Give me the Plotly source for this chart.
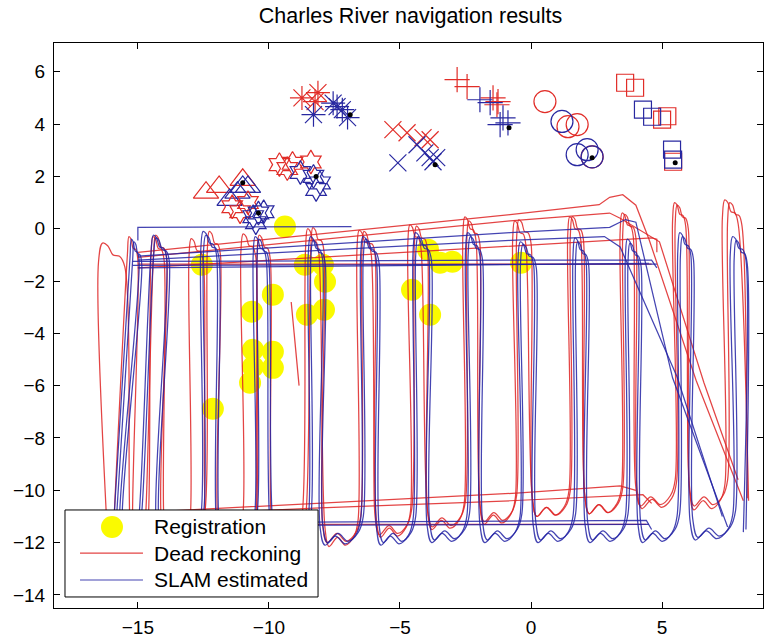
import plotly.graph_objects as go

# ---------------- data ----------------
# Registration points (yellow)
reg_x = [-9.39, -12.56, -8.63, -7.94, -7.86, -9.85, -10.65, -8.55, -7.9, -10.61,
         -9.85, -9.85, -10.61, -10.72, -4.54, -3.85, -3.93, -3.47, -3.0, -0.38, -12.14]
reg_y = [0.08, -1.38, -1.38, -1.38, -2.03, -2.52, -3.17, -3.29, -3.1, -4.63,
         -4.7, -5.32, -5.28, -5.89, -2.33, -3.29, -0.8, -1.3, -1.26, -1.3, -6.88]

# Landmark estimates (red = dead reckoning, blue = SLAM)
tri_red_x = [-12.4, -11.9, -11.0];            tri_red_y = [1.38, 1.6, 1.87]
tri_blue_x = [-11.5, -11.2, -11.0, -10.8];    tri_blue_y = [1.1, 1.38, 1.6, 1.6]
hexa_red_x = [-11.4, -11.1, -10.8];           hexa_red_y = [0.84, 0.65, 1.0]
hexa_blue_x = [-10.6, -10.4, -10.5, -10.2];   hexa_blue_y = [0.46, 0.6, 0.23, 0.65]
hexb_red_x = [-9.6, -9.1, -8.4, -9.3];        hexb_red_y = [2.45, 2.5, 2.55, 2.3]
hexb_blue_x = [-8.8, -8.3, -8.05, -8.2];      hexb_blue_y = [2.15, 2.0, 1.75, 1.5]
ast_red_x = [-8.74, -8.13, -8.24];            ast_red_y = [5.0, 5.2, 4.86]
ast_blue_x = [-8.3, -7.55, -7.2, -7.0, -7.4]; ast_blue_y = [4.36, 4.8, 4.55, 4.25, 4.67]
xm_red_x = [-5.27, -4.73, -4.12, -3.85];      xm_red_y = [3.79, 3.67, 3.48, 3.4]
xm_blue_x = [-5.08, -4.35, -4.05, -3.74, -3.6, -3.85]
xm_blue_y = [2.52, 3.21, 2.9, 2.56, 2.72, 2.72]
pl_red_x = [-2.82, -2.44, -1.45, -1.26, -1.3];  pl_red_y = [5.7, 5.43, 5.0, 4.86, 4.74]
pl_blue_x = [-1.95, -1.56, -1.07, -0.88, -1.18]; pl_blue_y = [4.93, 4.82, 4.24, 4.05, 3.98]
ci_red_x = [0.53, 1.41, 1.76, 2.33];          ci_red_y = [4.86, 3.9, 3.98, 2.75]
ci_blue_x = [1.18, 1.76, 2.14, 2.33];         ci_blue_y = [4.1, 2.83, 3.02, 2.75]
sq_red_x = [3.59, 3.97, 5.0, 5.42, 5.2];      sq_red_y = [5.58, 5.39, 4.17, 2.56, 4.3]
sq_blue_x = [4.27, 4.62, 5.38, 5.42];         sq_blue_y = [4.55, 4.28, 3.02, 2.64]
truth_x = [-11.0, -10.4, -8.2, -6.9, -3.66, -0.84, 2.33, 5.5]
truth_y = [1.76, 0.6, 2.0, 4.36, 2.45, 3.86, 2.71, 2.52]

# Survey lanes: x of the up/down legs at top and bottom, cap heights, turn depths
b1_up_top = [-15.3, -14.5, -12.6, -10.6, -8.5, -6.5, -4.5, -2.5, -0.5, 1.6, 3.6, 5.6, 7.6]
b1_dn_top = [-14.95, -13.9, -12.0, -10.1, -7.95, -5.9, -3.9, -1.95, 0.1, 2.1, 4.1, 6.1, 8.2]
b1_cap_y = [-0.4, -0.25, -0.1, -0.3, -0.3, -0.3, -0.15, -0.15, -0.5, -0.35, -0.4, -0.15, -0.3]
b1_up_bot = [-15.9, -14.95, -12.6, -10.55, -8.5, -6.5, -4.5, -2.45, -0.42, 1.6, 3.6, 5.57, 7.7]
b1_dn_bot = [-15.7, -14.3, -12.0, -9.95, -8.05, -5.9, -3.97, -1.95, 0.08, 2.06, 4.08, 6.07, 8.1]
b1_bot_y = [-11.9, -12.0, -12.0, -12.1, -12.1, -12.1, -12.0, -12.0, -12.0, -12.0, -12.0, -11.9, -11.6]

b2_up_top = [-15.2, -14.4, -12.5, -10.45, -8.4, -6.4, -4.4, -2.4, -0.4, 1.7, 3.7, 5.7, 7.75]
b2_dn_top = [-14.85, -13.8, -11.9, -10.0, -7.85, -5.8, -3.8, -1.85, 0.2, 2.2, 4.2, 6.2, 8.25]
b2_cap_y = [-0.5, -0.35, -0.25, -0.4, -0.45, -0.4, -0.3, -0.3, -0.6, -0.5, -0.55, -0.3, -0.45]
b2_up_bot = [-15.8, -14.85, -12.5, -10.45, -8.4, -6.4, -4.4, -2.35, -0.35, 1.7, 3.7, 5.67, 7.8]
b2_dn_bot = [-15.6, -14.2, -11.9, -9.85, -7.95, -5.8, -3.87, -1.85, 0.18, 2.16, 4.18, 6.17, 8.2]
b2_bot_y = [-11.8, -11.9, -11.9, -12.0, -12.0, -12.0, -11.9, -11.9, -11.9, -11.9, -11.9, -11.8, -11.5]

r1_up_top = [-16.5, -14.5, -13.05, -11.07, -8.6, -6.64, -4.7, -2.6, -0.7, 1.4, 3.4, 5.4, 7.3]
r1_dn_top = [-15.5, -14.0, -12.5, -10.5, -8.1, -6.1, -4.2, -2.1, -0.2, 1.9, 3.9, 5.9, 7.9]
r1_cap_y = [-0.55, -0.3, -0.38, -0.2, 0.0, -0.06, 0.15, 0.45, 0.3, 0.45, 0.6, 1.0, 1.1]
r1_up_bot = [-16.2, -14.6, -13.0, -11.0, -8.75, -6.6, -4.6, -2.55, -0.6, 1.45, 3.45, 5.5, 7.4]
r1_dn_bot = [-15.3, -14.0, -12.4, -10.4, -7.86, -5.9, -3.95, -1.95, 0.05, 2.05, 4.0, 6.05, 8.3]
r1_bot_y = [-12.0, -12.0, -12.0, -12.1, -12.15, -11.8, -11.5, -11.3, -11.0, -10.9, -10.6, -10.75, -10.4]

r2_up_top = [-15.4, -14.4, -12.35, -10.45, -8.4, -6.45, -4.45, -2.45, -0.55, 1.5, 3.5, 5.5, 7.5]
r2_dn_top = [-15.0, -13.9, -11.85, -9.95, -7.9, -5.95, -3.95, -1.95, 0.0, 2.0, 4.0, 6.0, 8.05]
r2_cap_y = [-0.3, -0.25, -0.1, -0.25, 0.04, -0.1, 0.1, 0.3, 0.34, 0.46, 0.55, 0.9, 1.0]
r2_up_bot = [-15.9, -14.7, -12.45, -10.5, -8.6, -6.5, -4.55, -2.5, -0.55, 1.5, 3.5, 5.55, 7.5]
r2_dn_bot = [-15.2, -14.1, -11.95, -9.9, -7.95, -5.95, -3.95, -1.95, 0.05, 2.05, 4.05, 6.05, 8.25]
r2_bot_y = [-11.9, -11.9, -11.9, -12.0, -12.0, -11.7, -11.4, -11.2, -11.0, -10.9, -10.7, -10.6, -10.3]

# Transit legs (SLAM)
bt_top_x = [-15.0, -15.0, -6.85];  bt_top_y = [-0.45, 0.05, 0.08]
bt_a_x = [-15.2, -8.0, 0.0, 4.6, 4.8];  bt_a_y = [-1.25, -1.22, -1.2, -1.2, -1.5]
bt_b_x = [-15.2, 4.8];  bt_b_y = [-1.4, -1.35]
bt_c_x = [-15.0, 4.5];  bt_c_y = [-1.5, -1.32]
bt_s1_x = [-15.0, -8.0, -0.8, 3.0, 3.6, 4.0, 5.4, 7.5]
bt_s1_y = [-1.05, -0.6, -0.15, 0.05, 0.35, 0.25, -5.7, -11.4]
bt_s2_x = [-15.0, -0.8, 2.8, 3.4, 5.57, 7.3]
bt_s2_y = [-1.2, -0.45, -0.3, -0.7, -5.66, -11.0]
bb1_x = [-15.0, 4.4, 4.6];  bb1_y = [-11.25, -11.15, -11.5]
bb2_x = [-15.0, 4.5];       bb2_y = [-11.35, -11.3]
# Transit legs (dead reckoning)
rt_s1_x = [-15.0, -0.8, 2.6, 3.0, 3.5, 4.0, 4.5, 6.3, 8.1]
rt_s1_y = [-0.9, 0.54, 0.92, 1.2, 1.3, 0.9, -0.4, -5.8, -10.4]
rt_s2_x = [-15.0, -0.8, 3.0, 3.4, 4.9, 6.6, 7.9]
rt_s2_y = [-1.1, 0.3, 0.6, 0.4, -0.5, -5.9, -9.6]
rt_s3_x = [-15.0, 4.6, 4.8, 4.8];  rt_s3_y = [-1.5, -0.35, -0.4, -0.9]
rt_flat_x = [-15.0, 4.6];          rt_flat_y = [-1.35, -1.35]
rb1_x = [-15.0, -8.05, -0.42, 3.4, 4.0];  rb1_y = [-10.85, -10.5, -10.1, -9.83, -10.0]
rb2_x = [-15.0, -8.05, -0.8, 4.27, 4.6];  rb2_y = [-11.0, -10.67, -10.4, -10.17, -10.5]
rb3_x = [-15.0, 4.4];  rb3_y = [-11.3, -11.3]
rs_x = [-9.15, -8.85]; rs_y = [-2.8, -6.0]

x_ticks = [-15, -10, -5, 0, 5]
y_ticks = [-14, -12, -10, -8, -6, -4, -2, 0, 2, 4, 6]

# ---------------- styles ----------------
RED = "rgba(222,35,35,0.85)"
BLUE = "rgba(35,35,165,0.85)"
MRED = "rgb(225,45,40)"
MBLUE = "rgb(40,40,160)"
FONT = "Liberation Sans, Arial, Helvetica, sans-serif"
CAP_FX = [0.0, 0.15, 0.35, 0.55, 0.8, 1.0]
CAP_DY = [-0.7, 0.0, -0.1, -0.45, -0.5, -0.9]
U_FX = [0.12, 0.38, 0.62, 0.88]
U_DY = [0.0, 0.35, 0.05, 0.4]


def lanes(up_top, dn_top, cap_y, up_bot, dn_bot, bot_y):
    xs, ys = [], []
    n = len(up_top)
    for i in range(n):
        start_y = bot_y[i - 1] + 1.0 if i > 0 else bot_y[0] + 1.0
        xs.append(up_bot[i]); ys.append(start_y)
        w = dn_top[i] - up_top[i]
        for fx, dy in zip(CAP_FX, CAP_DY):
            xs.append(up_top[i] + fx * w); ys.append(cap_y[i] + dy)
        if i == n - 1:
            xs.append(dn_bot[i]); ys.append(bot_y[i])
            break
        xs.append(dn_bot[i]); ys.append(bot_y[i] + 0.7)
        w2 = up_bot[i + 1] - dn_bot[i]
        for fx, dy in zip(U_FX, U_DY):
            xs.append(dn_bot[i] + fx * w2); ys.append(bot_y[i] + dy)
    return xs, ys


fig = go.Figure()

fig.add_trace(go.Scatter(x=reg_x, y=reg_y, mode="markers", name="Registration",
                         marker=dict(color="rgb(250,250,0)", size=22, line=dict(width=0))))

def path(x, y, color, smooth=True):
    fig.add_trace(go.Scatter(x=x, y=y, mode="lines",
                             line=dict(color=color, width=1.25,
                                       shape="spline" if smooth else "linear",
                                       smoothing=1.0),
                             showlegend=False, hoverinfo="skip"))

for args in [(r1_up_top, r1_dn_top, r1_cap_y, r1_up_bot, r1_dn_bot, r1_bot_y),
             (r2_up_top, r2_dn_top, r2_cap_y, r2_up_bot, r2_dn_bot, r2_bot_y)]:
    lx, ly = lanes(*args)
    path(lx, ly, RED)
for x, y in [(rt_s1_x, rt_s1_y), (rt_s2_x, rt_s2_y), (rt_s3_x, rt_s3_y), (rt_flat_x, rt_flat_y),
             (rb1_x, rb1_y), (rb2_x, rb2_y), (rb3_x, rb3_y), (rs_x, rs_y)]:
    path(x, y, RED, smooth=False)

for args in [(b1_up_top, b1_dn_top, b1_cap_y, b1_up_bot, b1_dn_bot, b1_bot_y),
             (b2_up_top, b2_dn_top, b2_cap_y, b2_up_bot, b2_dn_bot, b2_bot_y)]:
    lx, ly = lanes(*args)
    path(lx, ly, BLUE)
for x, y in [(bt_top_x, bt_top_y), (bt_a_x, bt_a_y), (bt_b_x, bt_b_y), (bt_c_x, bt_c_y),
             (bt_s1_x, bt_s1_y), (bt_s2_x, bt_s2_y), (bb1_x, bb1_y), (bb2_x, bb2_y)]:
    path(x, y, BLUE, smooth=False)

def marks(x, y, symbol, color, size):
    fig.add_trace(go.Scatter(x=x, y=y, mode="markers", showlegend=False,
                             marker=dict(symbol=symbol, size=size, color=color,
                                         line=dict(color=color, width=1.2))))

marks(tri_red_x, tri_red_y, "triangle-up-open", MRED, 22)
marks(tri_blue_x, tri_blue_y, "triangle-up-open", MBLUE, 22)
marks(hexa_red_x, hexa_red_y, "hexagram-open", MRED, 18)
marks(hexa_blue_x, hexa_blue_y, "hexagram-open", MBLUE, 18)
marks(hexb_red_x, hexb_red_y, "hexagram-open", MRED, 18)
marks(hexb_blue_x, hexb_blue_y, "hexagram-open", MBLUE, 18)
marks(ast_red_x, ast_red_y, "asterisk-open", MRED, 20)
marks(ast_blue_x, ast_blue_y, "asterisk-open", MBLUE, 20)
marks(xm_red_x, xm_red_y, "x-thin-open", MRED, 17)
marks(xm_blue_x, xm_blue_y, "x-thin-open", MBLUE, 17)
marks(pl_red_x, pl_red_y, "cross-thin-open", MRED, 18)
marks(pl_blue_x, pl_blue_y, "cross-thin-open", MBLUE, 18)
marks(ci_red_x, ci_red_y, "circle-open", MRED, 22)
marks(ci_blue_x, ci_blue_y, "circle-open", MBLUE, 22)
marks(sq_red_x, sq_red_y, "square-open", MRED, 17)
marks(sq_blue_x, sq_blue_y, "square-open", MBLUE, 17)
fig.add_trace(go.Scatter(x=truth_x, y=truth_y, mode="markers", showlegend=False,
                         marker=dict(color="black", size=5)))

axis_common = dict(showline=True, linecolor="black", linewidth=1, mirror="allticks",
                   ticks="inside", ticklen=6, tickcolor="black", showgrid=False,
                   zeroline=False, automargin=False,
                   tickfont=dict(family=FONT, size=19, color="black"))

fig.update_layout(
    width=766, height=640,
    margin=dict(l=54, r=3, t=43, b=32, autoexpand=False),
    paper_bgcolor="white", plot_bgcolor="white",
    showlegend=False,
    title=dict(text="Charles River navigation results", x=0.536, xanchor="center",
               y=0.976, yanchor="middle", yref="container",
               font=dict(family=FONT, size=21.5, color="black")),
    xaxis=dict(range=[-18.2, 8.85], tickvals=x_ticks, ticktext=[f"{v:g}".replace("-", "\u2212") for v in x_ticks],
               ticklabelstandoff=2, **axis_common),
    yaxis=dict(range=[-14.5, 7.1], tickvals=y_ticks, ticktext=[f"{v:g}".replace("-", "\u2212") for v in y_ticks],
               ticklabelstandoff=4, **axis_common),
)

# legend box (drawn manually to match the original layout)
fig.add_shape(type="rect", xref="paper", yref="paper", x0=0.0155, x1=0.3724, y0=0.0195, y1=0.1735,
              fillcolor="white", line=dict(color="black", width=1), layer="above")
fig.add_shape(type="circle", xref="paper", yref="paper", xsizemode="pixel", ysizemode="pixel",
              xanchor=0.0818, yanchor=0.1434, x0=-11, x1=11, y0=-11, y1=11,
              fillcolor="rgb(250,250,0)", line=dict(width=0), layer="above")
fig.add_shape(type="line", xref="paper", yref="paper", x0=0.0367, x1=0.1255, y0=0.0973, y1=0.0973,
              line=dict(color=RED, width=1.2), layer="above")
fig.add_shape(type="line", xref="paper", yref="paper", x0=0.0367, x1=0.1255, y0=0.0496, y1=0.0496,
              line=dict(color=BLUE, width=1.2), layer="above")
for txt, yy in [("Registration", 0.1434), ("Dead reckoning", 0.0973), ("SLAM estimated", 0.0496)]:
    fig.add_annotation(text=txt, xref="paper", yref="paper", x=0.1382, y=yy, xanchor="left",
                       yanchor="middle", showarrow=False,
                       font=dict(family=FONT, size=21, color="black"))

fig.write_html("out.html")
